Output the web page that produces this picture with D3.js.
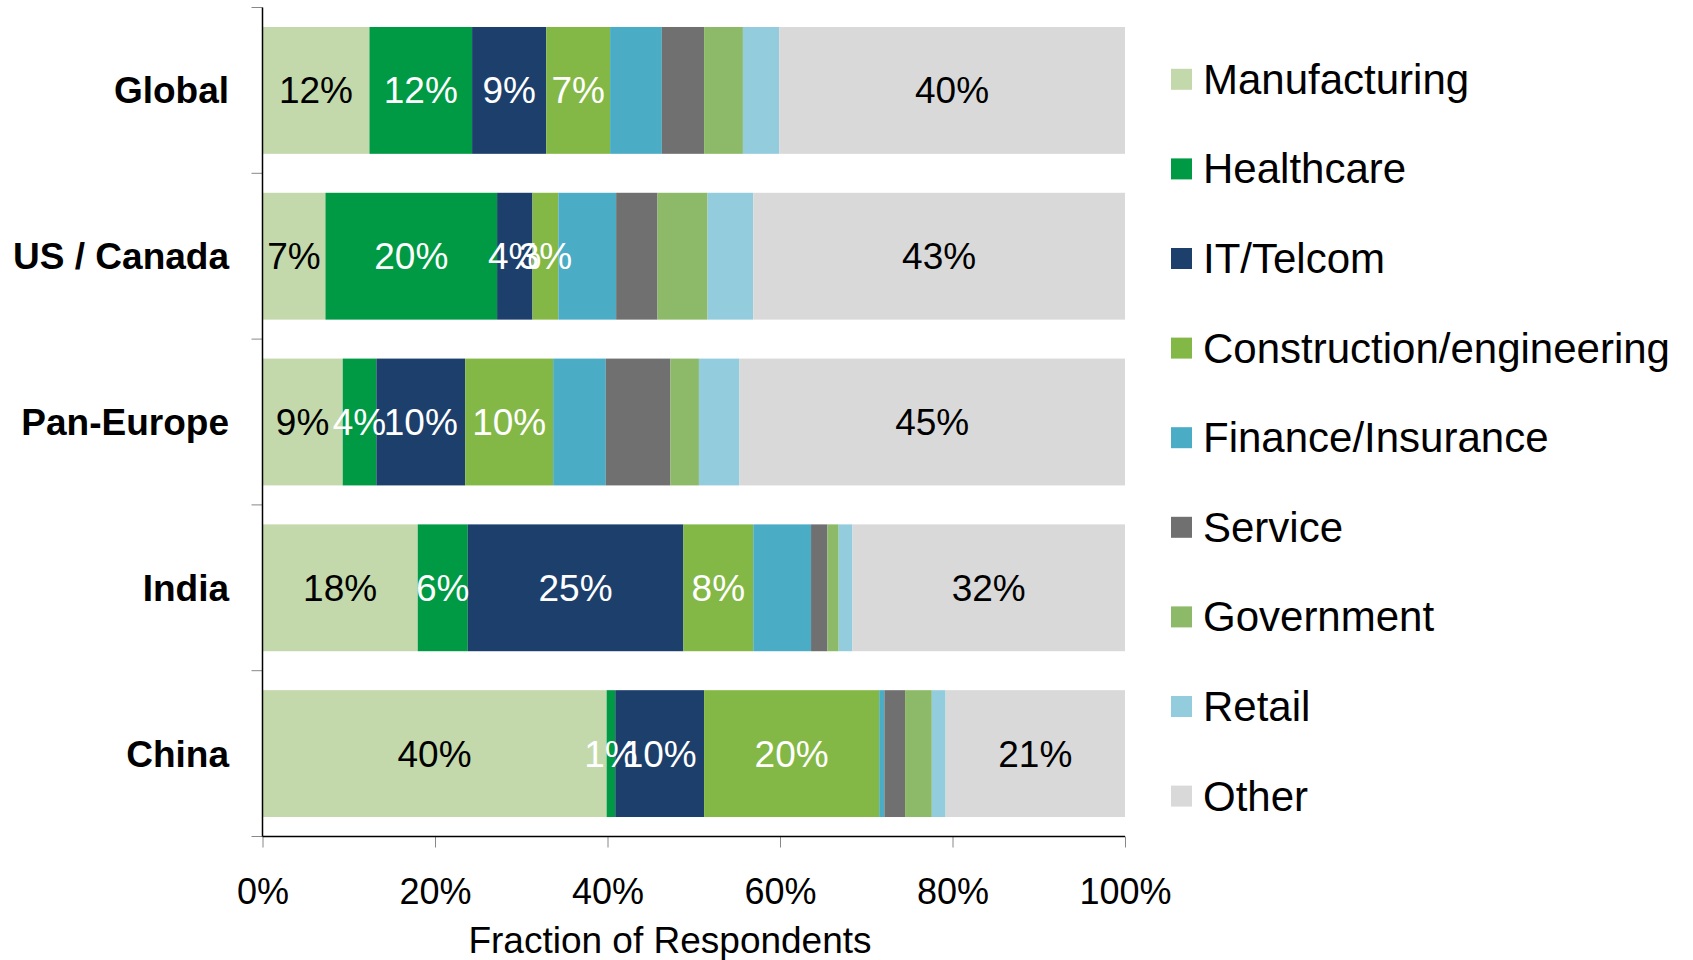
<!DOCTYPE html>
<html>
<head>
<meta charset="utf-8">
<script src="https://cdn.jsdelivr.net/npm/d3@7"></script>
<style>
  body { margin: 0; background: #fff; }
  text { font-family: "Liberation Sans", Arial, sans-serif; }
</style>
</head>
<body>
<div id="myChart"></div>
<script>
// regions (rows of the chart)
var regions = ["Global", "US / Canada", "Pan-Europe", "India", "China"];

// industries (stack order, left to right)
var industries = ["Manufacturing", "Healthcare", "IT/Telcom", "Construction/engineering",
    "Finance/Insurance", "Service", "Government", "Retail", "Other"];

// percent of respondents per industry, one array per region
var globalVals   = [12.4, 11.9, 8.6, 7.4, 6.0, 4.9, 4.5, 4.2, 40.1];
var usCanadaVals = [7.3, 19.9, 4.1, 3.0, 6.7, 4.8, 5.8, 5.3, 43.1];
var panEuropeVals = [9.3, 3.9, 10.3, 10.2, 6.1, 7.5, 3.3, 4.7, 44.7];
var indiaVals    = [18.0, 5.8, 25.0, 8.1, 6.7, 1.9, 1.3, 1.6, 31.6];
var chinaVals    = [39.9, 1.0, 10.3, 20.3, 0.6, 2.4, 3.1, 1.6, 20.8];

var xTicks = [0, 0.2, 0.4, 0.6, 0.8, 1.0];

// only these series get a value label
var labelled = ["Manufacturing", "Healthcare", "IT/Telcom", "Construction/engineering", "Other"];

var colors = ["#c3d9ab", "#009a44", "#1d3f6c", "#84b846", "#4bacc6", "#707070", "#8dba68", "#93cddd", "#d9d9d9"];
var labelColors = ["#000", "#fff", "#fff", "#fff", "#000", "#000", "#000", "#000", "#000"];

var allVals = [globalVals, usCanadaVals, panEuropeVals, indiaVals, chinaVals];

// build the table for d3.stack
var table = regions.map(function(r, i) {
    var row = {region: r};
    industries.forEach(function(ind, j) { row[ind] = allVals[i][j] / 100; });
    return row;
});

var width = 1693, height = 960;
var plotLeft = 262.5, plotRight = 1125, plotTop = 7.5, plotBottom = 836.5;

var svg = d3.select("#myChart").append("svg")
    .attr("width", width)
    .attr("height", height);

var x = d3.scaleLinear().domain([0, 1]).range([plotLeft, plotRight]);
var y = d3.scaleBand().domain(regions).range([plotTop, plotBottom])
    .paddingInner(0.235).paddingOuter(0.1175);

var color = d3.scaleOrdinal().domain(industries).range(colors);
var labelColor = d3.scaleOrdinal().domain(industries).range(labelColors);

var series = d3.stack().keys(industries)(table);

// stacked bars
var layers = svg.append("g").selectAll("g")
    .data(series)
    .enter().append("g")
    .attr("fill", function(d) { return color(d.key); });

layers.selectAll("rect")
    .data(function(d) { return d; })
    .enter().append("rect")
    .attr("x", function(d) { return x(d[0]); })
    .attr("y", function(d) { return y(d.data.region); })
    .attr("width", function(d) { return x(d[1]) - x(d[0]); })
    .attr("height", y.bandwidth());

// value labels
series.forEach(function(s) {
    if (labelled.indexOf(s.key) < 0) return;
    svg.append("g").selectAll("text")
        .data(s)
        .enter().append("text")
        .attr("x", function(d) { return (x(d[0]) + x(d[1])) / 2; })
        .attr("y", function(d) { return y(d.data.region) + y.bandwidth() / 2 + 13; })
        .attr("text-anchor", "middle")
        .style("font-size", "37px")
        .style("fill", labelColor(s.key))
        .text(function(d) { return Math.round((d[1] - d[0]) * 100) + "%"; });
});

// y axis: line, ticks at band boundaries, bold region names
var boundaries = d3.range(regions.length + 1).map(function(i) { return plotTop + i * y.step(); });
svg.append("g").selectAll("line")
    .data(boundaries)
    .enter().append("line")
    .attr("x1", plotLeft - 11).attr("x2", plotLeft)
    .attr("y1", function(d) { return d; }).attr("y2", function(d) { return d; })
    .style("stroke", "#888").style("stroke-width", 1);

svg.append("g").selectAll("text")
    .data(regions)
    .enter().append("text")
    .attr("x", 229)
    .attr("y", function(d) { return y(d) + y.bandwidth() / 2 + 13; })
    .attr("text-anchor", "end")
    .style("font-size", "37px")
    .style("font-weight", "bold")
    .text(function(d) { return d; });

// x axis
var xAxis = svg.append("g")
    .attr("transform", "translate(0," + plotBottom + ")")
    .call(d3.axisBottom(x).tickValues(xTicks).tickFormat(d3.format(".0%")).tickSize(11).tickPadding(31));
xAxis.select(".domain").remove();
xAxis.selectAll(".tick line").style("stroke", "#888");
xAxis.selectAll(".tick text")
    .style("font-size", "36px")
    .style("font-family", "'Liberation Sans', Arial, sans-serif")
    .style("fill", "#000");

svg.append("line")
    .attr("x1", plotLeft).attr("x2", plotLeft)
    .attr("y1", plotTop).attr("y2", plotBottom)
    .style("stroke", "#000").style("stroke-width", 1.5);
svg.append("line")
    .attr("x1", plotLeft).attr("x2", plotRight)
    .attr("y1", plotBottom).attr("y2", plotBottom)
    .style("stroke", "#000").style("stroke-width", 1.5);

svg.append("text")
    .attr("x", 670)
    .attr("y", 953)
    .attr("text-anchor", "middle")
    .style("font-size", "37px")
    .text("Fraction of Respondents");

// legend
var legend = svg.append("g").selectAll("g")
    .data(industries)
    .enter().append("g")
    .attr("transform", function(d, i) { return "translate(1171," + (78.8 + i * 89.6) + ")"; });

legend.append("rect")
    .attr("x", 0).attr("y", -10)
    .attr("width", 21).attr("height", 21)
    .attr("fill", function(d) { return color(d); });

legend.append("text")
    .attr("x", 32)
    .attr("y", 15)
    .style("font-size", "42px")
    .text(function(d) { return d; });
</script>
</body>
</html>
